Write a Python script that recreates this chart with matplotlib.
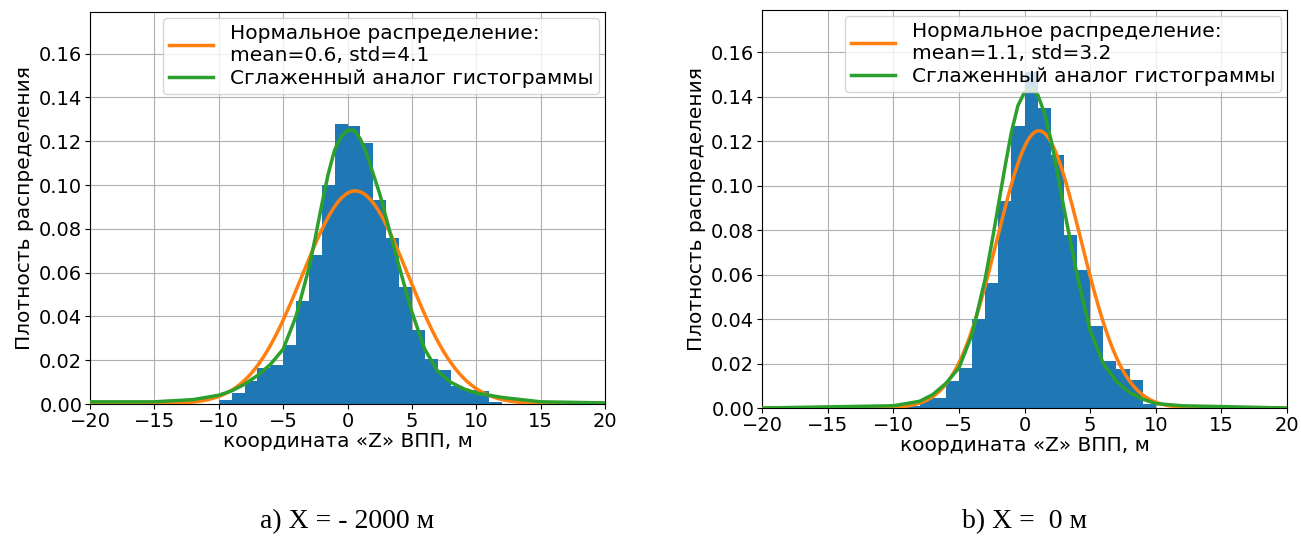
import matplotlib.pyplot as plt
import numpy as np

bin_edges_a = np.arange(-10, 13, 1)
counts_a = [0.002, 0.005, 0.0105, 0.0165, 0.018, 0.027, 0.047, 0.068, 0.100, 0.128, 0.127,
            0.119, 0.093, 0.076, 0.0535, 0.034, 0.0205, 0.0155, 0.008, 0.0065, 0.006, 0.001]
kde_x_a = [-20, -15, -12, -10, -9, -8, -7, -6, -5, -4, -3, -2.5, -2, -1.5, -1, -0.5, 0, 0.5, 1, 1.5, 2, 2.5,
           3, 4, 5, 6, 7, 8, 9, 10, 11, 12, 15, 20]
kde_y_a = [0.001, 0.001, 0.002, 0.004, 0.006, 0.009, 0.013, 0.018, 0.025, 0.040, 0.062, 0.076, 0.091, 0.105,
           0.116, 0.122, 0.125, 0.125, 0.121, 0.114, 0.105, 0.096, 0.085, 0.063, 0.042, 0.025, 0.015, 0.010,
           0.007, 0.005, 0.004, 0.003, 0.001, 0.0005]
mean_a, std_a = 0.6, 4.1

bin_edges_b = np.arange(-9, 11, 1)
counts_b = [0.001, 0.004, 0.0045, 0.012, 0.018, 0.040, 0.056, 0.093, 0.127, 0.151,
            0.135, 0.114, 0.078, 0.062, 0.037, 0.021, 0.0177, 0.0128, 0.002]
kde_x_b = [-20, -10, -8, -7, -6, -5, -4, -3, -2.5, -2, -1.5, -1, -0.5, 0, 0.5, 1, 1.5, 2, 2.5, 3, 4, 5, 6,
           7, 8, 9, 10, 12, 20]
kde_y_b = [0.0, 0.001, 0.003, 0.006, 0.011, 0.018, 0.033, 0.058, 0.074, 0.091, 0.108, 0.124, 0.136, 0.142,
           0.144, 0.141, 0.133, 0.121, 0.106, 0.090, 0.060, 0.035, 0.020, 0.012, 0.007, 0.004, 0.002, 0.001, 0.0]
mean_b, std_b = 1.1, 3.2

panels = [
    (bin_edges_a, counts_a, kde_x_a, kde_y_a, mean_a, std_a, 'a) X = - 2000 м'),
    (bin_edges_b, counts_b, kde_x_b, kde_y_b, mean_b, std_b, 'b) X =  0 м'),
]

fig = plt.figure(figsize=(13.01, 5.44), dpi=100)
rects = [[90/1301, 1-404/544, 515/1301, 392/544], [762/1301, 1-408/544, 525/1301, 398/544]]

for rect, (edges, counts, kx, ky, mu, sd, cap) in zip(rects, panels):
    ax = fig.add_axes(rect)
    ax.bar(edges[:-1], counts, width=1, align='edge', color='#1f77b4', zorder=2)
    xs = np.linspace(-20, 20, 400)
    pdf = np.exp(-(xs - mu) ** 2 / (2 * sd ** 2)) / (sd * np.sqrt(2 * np.pi))
    ax.plot(xs, pdf, color='#ff7f0e', lw=2.5, zorder=3,
            label='Нормальное распределение:\nmean=%.1f, std=%.1f' % (mu, sd))
    ax.plot(kx, ky, color='#2ca02c', lw=2.5, zorder=3, label='Сглаженный аналог гистограммы')
    ax.set_xlim(-20, 20)
    ax.set_ylim(0, 0.179)
    ax.set_yticks(np.arange(0, 0.17, 0.02))
    ax.grid(True, color='#b0b0b0', lw=0.8, zorder=0)
    ax.tick_params(labelsize=14, pad=2)
    ax.set_xlabel('координата «Z» ВПП, м', fontsize=14.5, labelpad=1)
    ax.set_ylabel('Плотность распределения', fontsize=14.5, labelpad=4)
    ax.legend(loc='upper right', fontsize=14.5, borderaxespad=0.3, labelspacing=0.2,
              handlelength=2.2, borderpad=0.3)
    fig.text(rect[0] + rect[2] / 2, 0.03, cap, ha='center', fontsize=20, family='Liberation Serif')

plt.savefig('out.png')
